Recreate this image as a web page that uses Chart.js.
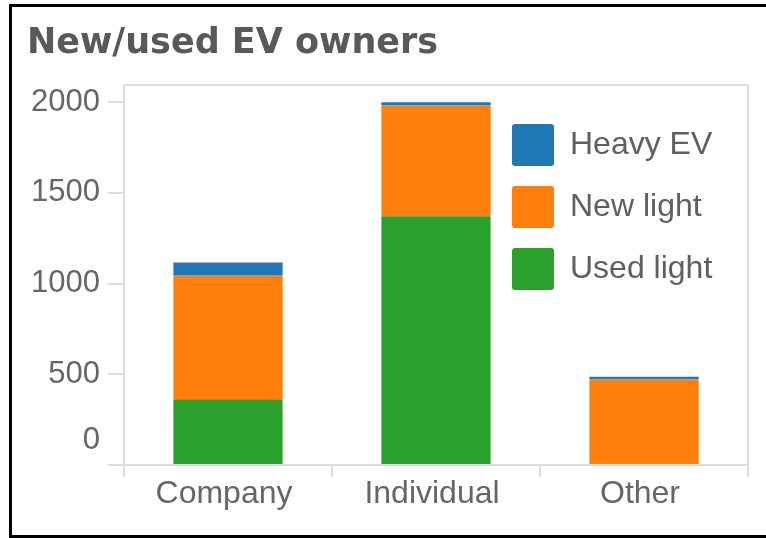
<!DOCTYPE html>
<html>
<head>
<meta charset="utf-8">
<script src="https://cdn.jsdelivr.net/npm/chart.js@4"></script>
<style>
  html, body { margin: 0; padding: 0; background: #fff; }
  #wrap { position: absolute; left: 0; top: 0; width: 766px; height: 538px; }
  #frame {
    position: absolute; left: 9px; top: 4px; width: 757px; height: 534px;
    box-sizing: border-box; border: 3px solid #000; border-right: none;
    pointer-events: none;
  }
</style>
</head>
<body>
<div id="wrap"><canvas id="evChart"></canvas></div>
<div id="frame"></div>
<script>
// Data
const categories = ["Company", "Individual", "Other"];
const usedLight = [362, 1372, 8];
const newLight = [686, 610, 465];
const heavyEV = [68, 18, 14];
const yTicks = [0, 500, 1000, 1500, 2000];

const axisGray = "#dddddd";
const textGray = "#666666";

// light frame round the plot area
const plotFrame = {
  id: "plotFrame",
  beforeDatasetsDraw(chart) {
    const { ctx, chartArea } = chart;
    ctx.save();
    ctx.strokeStyle = axisGray;
    ctx.lineWidth = 2;
    ctx.strokeRect(chartArea.left, chartArea.top, chartArea.right - chartArea.left, chartArea.bottom - chartArea.top);
    ctx.restore();
  },
};

// put the legend in the upper right of the plot
const legendInside = {
  id: "legendInside",
  beforeDraw(chart) {
    const lg = chart.legend;
    if (!lg) return;
    lg.left = chart.chartArea.right - 256;
    lg.top = chart.chartArea.top + 19;
    lg.bottom = lg.top + 400;
  },
};

const ctx = document.getElementById("evChart").getContext("2d");
const evChart = new Chart(ctx, {
  type: "bar",
  data: {
    labels: categories,
    datasets: [
      { label: "Used light", data: usedLight, backgroundColor: "#2ca02c" },
      { label: "New light", data: newLight, backgroundColor: "#ff7f0e" },
      { label: "Heavy EV", data: heavyEV, backgroundColor: "#1f77b4" },
    ],
  },
  options: {
    responsive: true,
    maintainAspectRatio: false,
    animation: false,
    layout: { padding: { left: 27, right: 18, top: 0, bottom: 0 } },
    datasets: {
      bar: { categoryPercentage: 1, barPercentage: 0.525, borderWidth: 0 },
    },
    scales: {
      x: {
        stacked: true,
        grid: { drawOnChartArea: false, tickLength: 12, tickColor: axisGray, lineWidth: 2 },
        border: { color: axisGray, width: 2 },
        ticks: { color: textGray, padding: -2, labelOffset: -4, font: { family: "Liberation Sans", size: 32 } },
        afterFit(scale) { scale.height = 73; },
      },
      y: {
        stacked: true,
        min: 0,
        max: 2095,
        afterBuildTicks(scale) { scale.ticks = yTicks.map((v) => ({ value: v })); },
        grid: { drawOnChartArea: false, tickLength: 16, tickColor: axisGray, lineWidth: 2 },
        border: { color: axisGray, width: 2 },
        ticks: {
          autoSkip: false,
          color: textGray,
          padding: 8,
          font: { family: "Liberation Sans", size: 31, lineHeight: 1.6 },
          // the zero label sits a little above its tick in the original
          callback: (v) => (v === 0 ? ["0", ""] : String(v)),
        },
        afterFit(scale) { scale.width = 97; },
      },
    },
    plugins: {
      title: {
        display: true,
        text: "New/used EV owners",
        align: "start",
        color: "#595959",
        font: { family: "DejaVu Sans", size: 35, weight: "bold", lineHeight: 1.2 },
        padding: { top: 23, bottom: 20 },
      },
      legend: {
        position: "chartArea",
        align: "start",
        reverse: true,
        labels: {
          boxWidth: 42,
          boxHeight: 42,
          padding: 20,
          color: "#5f5f5f",
          useBorderRadius: true,
          borderRadius: 3,
          font: { family: "Liberation Sans", size: 32 },
        },
      },
      tooltip: { enabled: false },
    },
  },
  plugins: [plotFrame, legendInside],
});
</script>
</body>
</html>
